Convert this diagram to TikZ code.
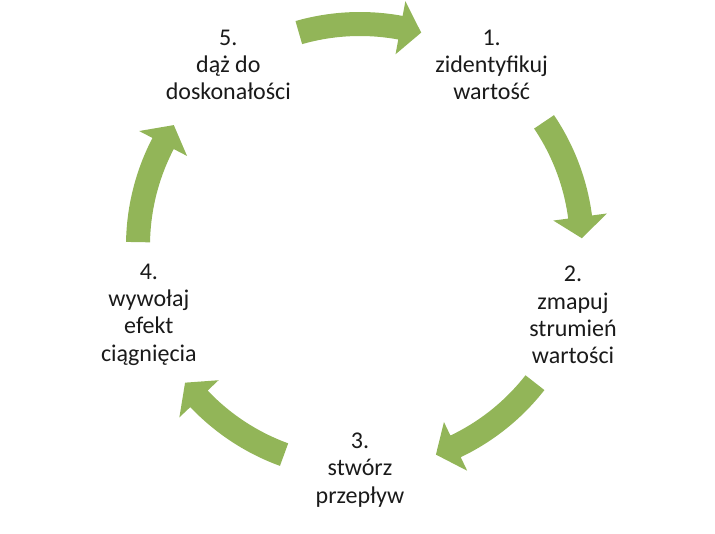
\documentclass[tikz,border=0pt]{standalone}
\usepackage{fontspec}
\setmainfont{Carlito}
\usepackage{tikz}
\usetikzlibrary{calc}
\definecolor{leaf}{HTML}{92B558}
\definecolor{ink}{HTML}{1A1A1A}
\tikzset{
  steplabel/.style={
    align=center, text=ink, inner sep=0pt,
    font=\fontsize{18pt}{20.5pt}\selectfont
  },
  cyclearrow/.style={fill=leaf, draw=none},
}
% curved block arrow round (c), centred on angle #1, running clockwise
\newcommand\cyclearrow[1]{%
  \begin{scope}[shift={(c)}, rotate=#1-90]
    \fill[cyclearrow] (106:234) arc[start angle=106, end angle=79.5, radius=234]
      -- (79.5:249) -- (74:222) -- (79.5:195) -- (79.5:210)
      arc[start angle=79.5, end angle=106, radius=210] -- cycle;
  \end{scope}}

\begin{document}
\begin{tikzpicture}[x=0.75pt, y=0.75pt]
  \useasboundingbox (0,0) rectangle (715,533);
  \coordinate (c) at (360,287);
  \node[steplabel] (s1) at ($(c)+(54:224)$) {1.\\zidentyfikuj\\wartość};
  \node[steplabel] (s2) at ($(c)+(-18:224)$) {2.\\zmapuj\\strumień\\wartości};
  \node[steplabel] (s3) at ($(c)+(-90:224)$) {3.\\stwórz\\przepływ};
  \node[steplabel] (s4) at ($(c)+(198:222)$) {4.\\wywołaj\\efekt\\ciągnięcia};
  \node[steplabel] (s5) at ($(c)+(126:224)$) {5.\\dąż do\\doskonałości};
  \cyclearrow{90}
  \cyclearrow{18}
  \cyclearrow{-54}
  \cyclearrow{-126}
  \cyclearrow{163}
\end{tikzpicture}
\end{document}
